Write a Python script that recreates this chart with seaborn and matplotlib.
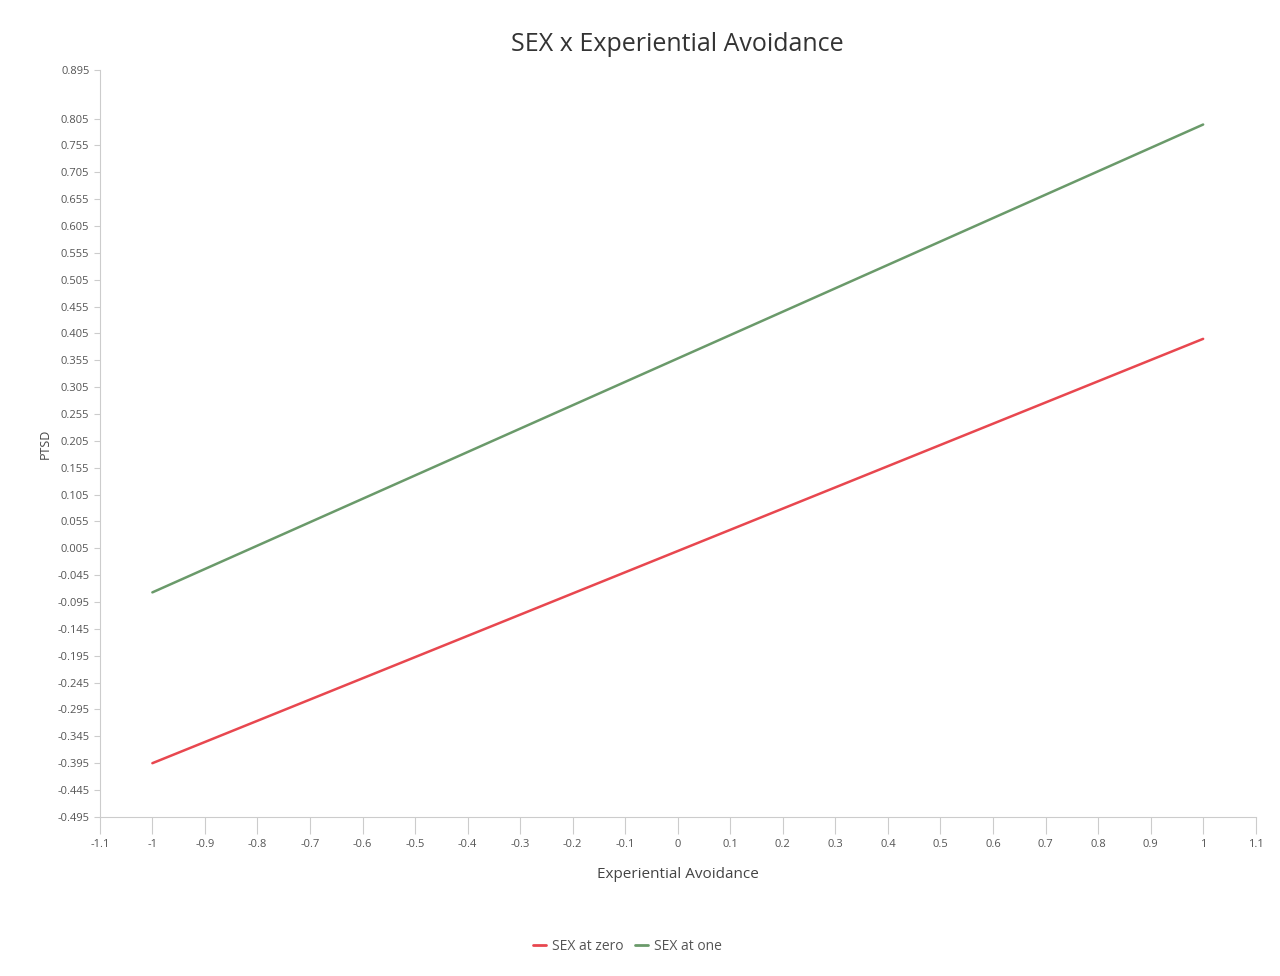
import matplotlib
matplotlib.use("Agg")
import matplotlib.pyplot as plt
import seaborn as sns
import pandas as pd
import numpy as np

x_vals = [-1, 1]
sex_zero = [-0.395, 0.395]
sex_one = [-0.077, 0.794]
series_names = ["SEX at zero", "SEX at one"]
colors = ["#e8474f", "#6a9a6a"]
x_ticks = [-1.1, -1, -0.9, -0.8, -0.7, -0.6, -0.5, -0.4, -0.3, -0.2, -0.1, 0, 0.1, 0.2, 0.3, 0.4, 0.5, 0.6, 0.7, 0.8, 0.9, 1, 1.1]
y_ticks = [0.895] + [round(0.805 - 0.05 * i, 3) for i in range(27)]

sns.set_style("white")
plt.rcParams['font.family'] = ['Open Sans', 'DejaVu Sans']

df = pd.DataFrame({
    "x": x_vals * 2,
    "y": sex_zero + sex_one,
    "series": [series_names[0]] * 2 + [series_names[1]] * 2,
})

fig = plt.figure(figsize=(12.8, 9.76), dpi=100)
ax = fig.add_axes([0.078, 0.163, 0.903, 0.765])
sns.lineplot(data=df, x="x", y="y", hue="series", palette=colors, ax=ax, linewidth=1.8, legend=False)

ax.set_xlim(-1.1, 1.1)
ax.set_ylim(-0.495, 0.895)
ax.set_xticks(x_ticks)
ax.set_xticklabels([("%g" % t) for t in x_ticks], fontsize=8, color="#555555")
ax.set_yticks(y_ticks)
ax.set_yticklabels([("%.3f" % t) for t in y_ticks], fontsize=8, color="#555555")
for s in ["top", "right"]:
    ax.spines[s].set_visible(False)
for s in ["left", "bottom"]:
    ax.spines[s].set_color("#cccccc")
ax.tick_params(axis="both", length=4, color="#cccccc", direction="out", bottom=True, left=True)
ax.tick_params(axis="x", length=12, pad=4)
ax.set_xlabel("Experiential Avoidance", fontsize=11, color="#444444", labelpad=12)
ax.set_ylabel("PTSD", fontsize=9, color="#444444")
ax.set_title("SEX x Experiential Avoidance", fontsize=18, color="#333333", pad=14)

from matplotlib.lines import Line2D
handles = [Line2D([0], [0], color=c, lw=2) for c in colors]
fig.legend(handles, series_names, loc="center", bbox_to_anchor=(0.49, 0.03), ncol=2, frameon=False,
           fontsize=10, handlelength=1, handletextpad=0.4, columnspacing=0.8, labelcolor="#555555")

fig.savefig("out.png", dpi=100)
